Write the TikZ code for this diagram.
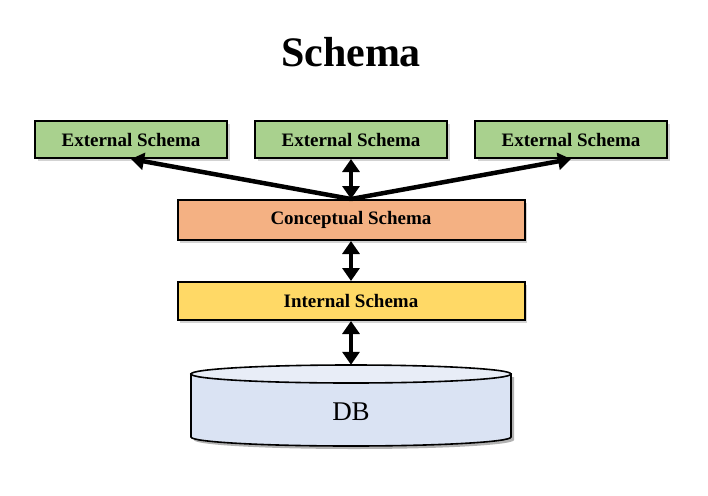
\documentclass[tikz,border=0pt]{standalone}
\usepackage{fontspec}
\setmainfont{Liberation Serif}
\usetikzlibrary{positioning,arrows.meta,shadows}

\definecolor{extgreen}{HTML}{A9D18E}
\definecolor{concorange}{HTML}{F4B183}
\definecolor{intyellow}{HTML}{FFD966}
\definecolor{dbblue}{HTML}{DAE3F3}
\definecolor{dbtopblue}{HTML}{E8EDF7}

\begin{document}
\begin{tikzpicture}[x=1pt,y=-1pt,
    layer/.style={draw=black,line width=2pt,inner sep=0pt,
        font=\fontsize{19}{21}\selectfont\bfseries,
        drop shadow={shadow xshift=2.5pt,shadow yshift=-2.5pt,opacity=0.35}},
    arr/.style={line width=4.5pt,-{Triangle[length=13pt,width=17pt]}},
    darr/.style={line width=4.5pt,{Triangle[length=13pt,width=17pt]}-{Triangle[length=13pt,width=17pt]}}]
    \useasboundingbox (0,0) rectangle (708,495);

    \node (title) at (351,52) {\fontsize{42}{46}\selectfont\bfseries Schema};

    \node[layer,fill=extgreen,minimum width=192pt,minimum height=37pt] (ext1) at (131,139.5) {External Schema};
    \node[layer,fill=extgreen,minimum width=192pt,minimum height=37pt] (ext2) at (351,139.5) {External Schema};
    \node[layer,fill=extgreen,minimum width=192pt,minimum height=37pt] (ext3) at (571,139.5) {External Schema};

    \node[layer,fill=concorange,minimum width=347pt,minimum height=40pt] (concept) at (351,220) {Conceptual Schema};
    \node[layer,fill=intyellow,minimum width=347pt,minimum height=38pt] (internal) at (351,301) {Internal Schema};

    % database cylinder
    \fill[black,opacity=0.3] (194,377) -- (194,440) arc[start angle=180,end angle=0,x radius=160,y radius=9] -- (514,377) -- cycle;
    \filldraw[fill=dbblue,draw=black,line width=1.6pt] (191,374) -- (191,437) arc[start angle=180,end angle=0,x radius=160,y radius=9] -- (511,374) -- cycle;
    \filldraw[fill=dbtopblue,draw=black,line width=1.6pt] (351,374) ellipse[x radius=160,y radius=9];
    \node[minimum width=320pt,minimum height=81pt,inner sep=0pt] (db) at (351,405.5) {};
    \node at (351,412) {\fontsize{27}{30}\selectfont DB};

    \draw[arr] (concept.north) -- (ext1.south);
    \draw[arr] (concept.north) -- (ext3.south);
    \draw[darr] (ext2.south) -- (concept.north);
    \draw[darr] (concept.south) -- (internal.north);
    \draw[darr] (internal.south) -- (db.north);
\end{tikzpicture}
\end{document}
